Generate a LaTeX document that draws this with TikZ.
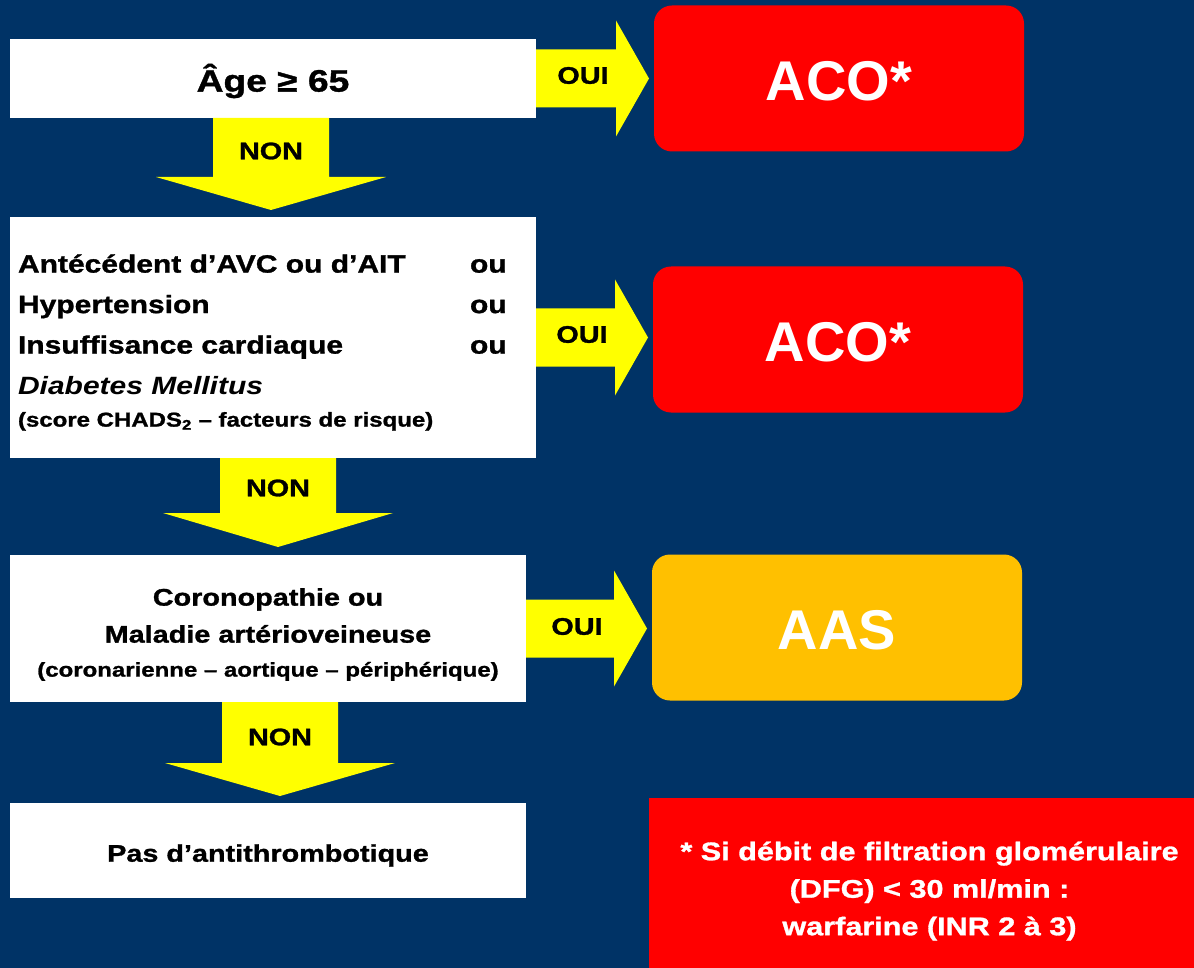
\documentclass[tikz,border=0pt]{standalone}
\usepackage{fontspec}
\setmainfont{Liberation Sans}[FakeStretch=1.2, BoldFeatures={FakeBold=1.2}]
\newfontfamily\grandfont{Liberation Sans}
\usetikzlibrary{calc}
\definecolor{fond}{RGB}{0,51,102}
\definecolor{jaune}{RGB}{255,255,0}
\definecolor{rouge}{RGB}{255,0,0}
\definecolor{ambre}{RGB}{255,192,0}
\newcommand{\abaisse}[2]{\raisebox{-#1}[\height][\depth]{#2}}

\begin{document}
\begin{tikzpicture}[x=1pt, y=-1pt,
    critere/.style={fill=white, inner sep=8pt, outer sep=0pt},
    decision/.style={rounded corners=18pt, minimum width=370pt, minimum height=146pt,
        outer sep=0pt, text=white, font=\grandfont\bfseries\fontsize{56}{60}\selectfont},
    fleche/.style={fill=jaune},
    etiq/.style={font=\bfseries\fontsize{24}{28}\selectfont}]
    % Background
    \useasboundingbox (0,0) rectangle (1194,968);
    \fill[fond] (0,0) rectangle (1194,968);

    % Draw the left column
    \node[critere, minimum width=526pt, minimum height=79pt,
        font=\bfseries\fontsize{31}{36}\selectfont] (age) at (273,78.5) {\abaisse{2.5pt}{Âge ≥ 65}};
    \node[critere, minimum width=526pt, minimum height=241pt,
        font=\bfseries\fontsize{25}{40.5}\selectfont] (facteurs) at (273,337.5)
        {\abaisse{5pt}{\parbox{510pt}{\raggedright
         \makebox[452pt][l]{Antécédent d’AVC ou d’AIT}ou\\
         \makebox[452pt][l]{Hypertension}ou\\
         \makebox[452pt][l]{Insuffisance cardiaque}ou\\
         \textit{Diabetes Mellitus}\\[-8pt]
         {\fontsize{20}{24}\selectfont (score CHADS\textsubscript{2} – facteurs de risque)}}}};
    \node[critere, minimum width=516pt, minimum height=147pt,
        font=\bfseries\fontsize{24}{37}\selectfont] (corono) at (268,628.5)
        {\abaisse{6pt}{\parbox{500pt}{\centering
         Coronopathie ou\\ Maladie artérioveineuse\\[-3pt]
         {\fontsize{20}{24}\selectfont (coronarienne – aortique – périphérique)}}}};
    \node[critere, minimum width=516pt, minimum height=95pt,
        font=\bfseries\fontsize{24}{28}\selectfont] (aucun) at (268,850.5)
        {\abaisse{5pt}{Pas d’antithrombotique}};

    % Draw the right column
    \node[decision, fill=rouge] (aco1) at (839,78.5) {\abaisse{2.5pt}{ACO*}};
    \node[decision, fill=rouge] (aco2) at (838,339.5) {\abaisse{2.5pt}{ACO*}};
    \node[decision, fill=ambre] (aas) at (837,627.5) {\abaisse{2.5pt}{AAS}};
    \node[fill=rouge, anchor=north west, minimum width=561pt, minimum height=186pt,
        inner sep=0pt, outer sep=0pt, text=white, align=center,
        font=\bfseries\fontsize{25.5}{37.5}\selectfont] (note) at (649,798)
        {* Si débit de filtration glomérulaire\\ (DFG) < 30 ml/min :\\ warfarine (INR 2 à 3)};

    % OUI arrows
    \coordinate (p1) at ($(age.east -| aco1.west)+(-5,0)$);
    \fill[fleche] ($(age.east)+(0,-29)$) -- ($(p1)+(-33,-29)$) -- ++(0,-29) -- (p1)
        -- ($(p1)+(-33,58)$) -- ++(0,-29) -- ($(age.east)+(0,29)$) -- cycle;
    \node[etiq] (oui1) at ($(p1)+(-66,-3)$) {OUI};

    \coordinate (p2) at ($(facteurs.east -| aco2.west)+(-5,0)$);
    \fill[fleche] ($(facteurs.east)+(0,-29)$) -- ($(p2)+(-33,-29)$) -- ++(0,-29) -- (p2)
        -- ($(p2)+(-33,58)$) -- ++(0,-29) -- ($(facteurs.east)+(0,29)$) -- cycle;
    \node[etiq] (oui2) at ($(p2)+(-66,-3)$) {OUI};

    \coordinate (p3) at ($(corono.east -| aas.west)+(-5,0)$);
    \fill[fleche] ($(corono.east)+(0,-29)$) -- ($(p3)+(-33,-29)$) -- ++(0,-29) -- (p3)
        -- ($(p3)+(-33,58)$) -- ++(0,-29) -- ($(corono.east)+(0,29)$) -- cycle;
    \node[etiq] (oui3) at ($(p3)+(-70,-2)$) {OUI};

    % NON arrows
    \coordinate (t1) at ($(facteurs.north)+(-2,-7)$);
    \fill[fleche] ($(t1 |- age.south)+(-58,0)$) -- ($(t1)+(-58,-33)$) -- ++(-57,0) -- (t1)
        -- ($(t1)+(115,-33)$) -- ++(-57,0) -- ($(t1 |- age.south)+(58,0)$) -- cycle;
    \node[etiq] (non1) at ($(t1)+(0,-59)$) {NON};

    \coordinate (t2) at ($(corono.north)+(10,-8)$);
    \fill[fleche] ($(t2 |- facteurs.south)+(-58,0)$) -- ($(t2)+(-58,-34)$) -- ++(-57,0) -- (t2)
        -- ($(t2)+(115,-34)$) -- ++(-57,0) -- ($(t2 |- facteurs.south)+(58,0)$) -- cycle;
    \node[etiq] (non2) at ($(t2)+(0,-59)$) {NON};

    \coordinate (t3) at ($(aucun.north)+(12,-7)$);
    \fill[fleche] ($(t3 |- corono.south)+(-58,0)$) -- ($(t3)+(-58,-33)$) -- ++(-57,0) -- (t3)
        -- ($(t3)+(115,-33)$) -- ++(-57,0) -- ($(t3 |- corono.south)+(58,0)$) -- cycle;
    \node[etiq] (non3) at ($(t3)+(0,-59)$) {NON};
\end{tikzpicture}
\end{document}
